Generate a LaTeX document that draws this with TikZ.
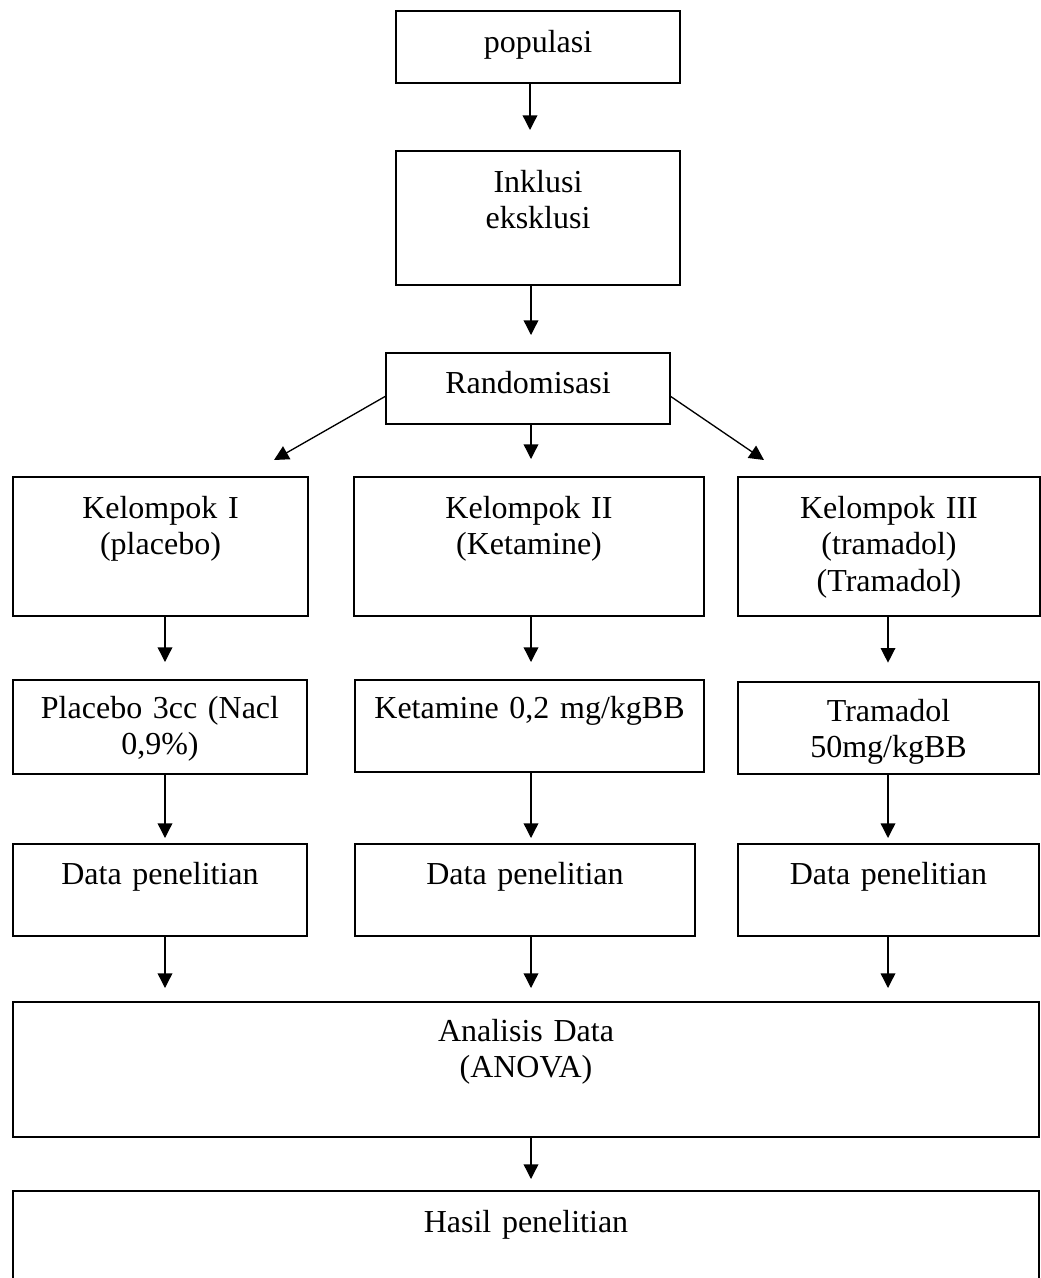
\documentclass[tikz,border=0pt]{standalone}
\usepackage{fontspec}
\setmainfont{Liberation Serif}
\usetikzlibrary{arrows.meta}
\begin{document}
\begin{tikzpicture}[x=0.75pt,y=-0.75pt,
  box/.style={draw, line width=1.2pt, inner sep=0pt, outer sep=0pt, anchor=north west},
  txt/.style={inner sep=0pt, anchor=base, align=center, font=\fontsize{24}{27.6}\selectfont},
  arr/.style={line width=1pt, -{Triangle[width=11pt,length=11pt]}}]
\useasboundingbox (0,0) rectangle (1041,1278);
\clip (0,0) rectangle (1041,1278);
% boxes
\node[box, minimum width=213pt, minimum height=54pt] (pop) at (396,11) {};
\node[box, minimum width=213pt, minimum height=100.5pt] (inc) at (396,151) {};
\node[box, minimum width=213pt, minimum height=53.25pt] (rand) at (386,353) {};
\node[box, minimum width=221.25pt, minimum height=104.25pt] (k1) at (13,477) {};
\node[box, minimum width=262.5pt, minimum height=104.25pt] (k2) at (354,477) {};
\node[box, minimum width=226.5pt, minimum height=104.25pt] (k3) at (738,477) {};
\node[box, minimum width=220.5pt, minimum height=70.5pt] (p1) at (13,680) {};
\node[box, minimum width=261.75pt, minimum height=69pt] (p2) at (355,680) {};
\node[box, minimum width=225.75pt, minimum height=69pt] (p3) at (738,682) {};
\node[box, minimum width=220.5pt, minimum height=69pt] (d1) at (13,844) {};
\node[box, minimum width=255pt, minimum height=69pt] (d2) at (355,844) {};
\node[box, minimum width=225.75pt, minimum height=69pt] (d3) at (738,844) {};
\node[box, minimum width=769.5pt, minimum height=101.25pt] (an) at (13,1002) {};
\node[box, minimum width=769.5pt, minimum height=75pt] (hs) at (13,1191) {};
% texts
\node[txt, text width=210pt] (pop-t) at (538,52) {populasi};
\node[txt, text width=210pt] (inc-t) at (538,192) {Inklusi\\eksklusi};
\node[txt, text width=210pt] (rand-t) at (528,393) {Randomisasi};
\node[txt, text width=220pt] (k1-t) at (160.5,518) {Kelompok I\\(placebo)};
\node[txt, text width=260pt] (k2-t) at (529,518) {Kelompok II\\(Ketamine)};
\node[txt, text width=225pt] (k3-t) at (889,518) {Kelompok III\\(tramadol)\\(Tramadol)};
\node[txt, text width=220pt] (p1-t) at (160,718) {Placebo 3cc (Nacl\\0,9\%)};
\node[txt, text width=260pt] (p2-t) at (529.5,718) {Ketamine 0,2 mg/kgBB};
\node[txt, text width=225pt] (p3-t) at (888.5,721) {Tramadol\\50mg/kgBB};
\node[txt, text width=220pt] (d1-t) at (160,884) {Data penelitian};
\node[txt, text width=250pt] (d2-t) at (525,884) {Data penelitian};
\node[txt, text width=225pt] (d3-t) at (888.5,884) {Data penelitian};
\node[txt, text width=760pt] (an-t) at (526,1041) {Analisis Data\\(ANOVA)};
\node[txt, text width=760pt] (hs-t) at (526,1232) {Hasil penelitian};
% arrow columns
\coordinate (c0) at (530,0);
\coordinate (c1) at (165,0);
\coordinate (c2) at (531,0);
\coordinate (c3) at (888,0);
\coordinate (t1) at (274,460);
\coordinate (t3) at (764,460);
% connectors
\draw[arr, shorten >=15.75pt] (pop.south -| c0) -- (inc.north -| c0);
\draw[arr, shorten >=13.5pt] (inc.south -| c2) -- (rand.north -| c2);
\draw[arr] ([yshift=-5.6pt]rand.west) -- (t1);
\draw[arr, shorten >=13.5pt] (rand.south -| c2) -- (k2.north -| c2);
\draw[arr] ([yshift=-5.6pt]rand.east) -- (t3);
\draw[arr, shorten >=13.5pt] (k1.south -| c1) -- (p1.north -| c1);
\draw[arr, shorten >=13.5pt] (k2.south -| c2) -- (p2.north -| c2);
\draw[arr, shorten >=14.5pt] (k3.south -| c3) -- (p3.north -| c3);
\draw[arr, shorten >=4.5pt] (p1.south -| c1) -- (d1.north -| c1);
\draw[arr, shorten >=4.5pt] (p2.south -| c2) -- (d2.north -| c2);
\draw[arr, shorten >=4.5pt] (p3.south -| c3) -- (d3.north -| c3);
\draw[arr, shorten >=10.5pt] (d1.south -| c1) -- (an.north -| c1);
\draw[arr, shorten >=10.5pt] (d2.south -| c2) -- (an.north -| c2);
\draw[arr, shorten >=10.5pt] (d3.south -| c3) -- (an.north -| c3);
\draw[arr, shorten >=9pt] (an.south -| c2) -- (hs.north -| c2);
\end{tikzpicture}
\end{document}
